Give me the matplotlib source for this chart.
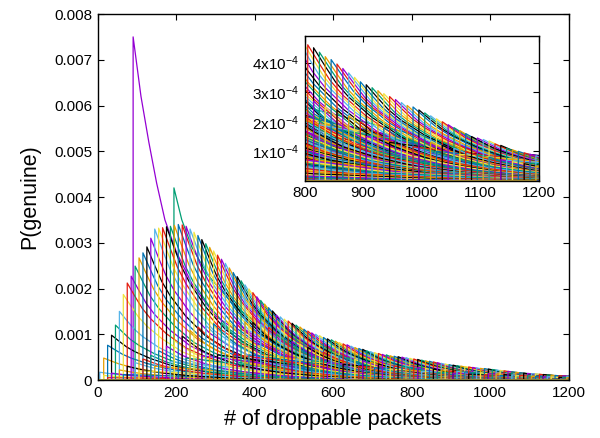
import matplotlib
matplotlib.use("Agg")
import matplotlib.pyplot as plt
import numpy as np

plt.rcParams['font.family'] = ['Liberation Sans', 'DejaVu Sans']
plt.rcParams['mathtext.fontset'] = 'custom'
plt.rcParams['mathtext.rm'] = 'Liberation Sans'
plt.rcParams['mathtext.it'] = 'Liberation Sans:italic'

# ---------------- data ----------------
# main family: jump position and peak height (units of 1e-4)
main_start = [5, 15, 25, 35, 45, 55, 65, 75, 85, 95,
              105, 115, 125, 135, 145, 155, 165, 175, 185, 195,
              205, 215, 225, 235, 245, 255, 265, 275, 285, 295,
              305, 315, 325, 335, 345, 355, 365, 375, 385, 395,
              405, 415, 425, 435, 445, 455, 465, 475, 485, 495,
              505, 515, 525, 535, 545, 555, 565, 575, 585, 595,
              605, 615, 625, 635, 645, 655, 665, 675, 685, 695,
              705, 715, 725, 735, 745, 755, 765, 775, 785, 795,
              805, 815, 825, 835, 845, 855, 865, 875, 885, 895,
              905, 915, 925, 935, 945, 955, 965, 975, 985, 995,
              1005, 1015, 1025, 1035, 1045, 1055, 1065, 1075, 1085, 1095,
              1105, 1115, 1125, 1135, 1145, 1155, 1165, 1175, 1185, 1195]
main_peak = [1.7, 4.8, 7.6, 9.8, 12.0, 15.0, 18.7, 21.2, 22.7, 24.9,
             26.7, 27.8, 29.1, 31.0, 33.0, 33.2, 33.3, 33.5, 33.6, 33.8,
             34.0, 33.9, 33.6, 33.0, 32.3, 31.6, 30.7, 29.8, 29.0, 28.2,
             27.3, 26.4, 25.5, 24.5, 23.5, 22.6, 21.7, 20.8, 19.9, 19.1,
             18.2, 17.4, 16.6, 15.8, 15.1, 14.2, 13.8, 13.3, 12.9, 12.4,
             12.0, 11.6, 11.1, 10.7, 10.3, 10.0, 9.7, 9.3, 9.0, 8.8,
             8.5, 8.2, 7.9, 7.7, 7.4, 7.1, 6.9, 6.7, 6.4, 6.2,
             6.0, 5.8, 5.6, 5.5, 5.3, 5.2, 5.1, 5.0, 4.9, 4.75,
             4.6, 4.5, 4.35, 4.2, 4.1, 3.95, 3.8, 3.65, 3.5, 3.35,
             3.25, 3.15, 3.05, 2.95, 2.85, 2.75, 2.65, 2.55, 2.5, 2.4,
             2.3, 2.2, 2.1, 2.0, 1.9, 1.8, 1.7, 1.6, 1.5, 1.45,
             1.4, 1.35, 1.25, 1.2, 1.1, 1.05, 1.0, 0.95, 0.9, 0.85]

# secondary (lower) family
sec_start = [15, 35, 55, 75, 95, 115, 135, 155, 175, 195,
             215, 235, 255, 275, 295, 315, 335, 355, 375, 395,
             415, 435, 455, 475, 495, 515, 535, 555, 575, 595,
             615, 635, 655, 675, 695, 715, 735, 755, 775, 795,
             815, 835, 855, 875, 895, 915, 935, 955, 975, 995,
             1015, 1035, 1055, 1075, 1095, 1115, 1135, 1155, 1175, 1195]
sec_peak = [1.0, 1.5, 2.2, 3.0, 3.8, 4.6, 5.4, 6.4, 7.4, 8.6,
            9.6, 10.8, 11.6, 12.0, 12.3, 12.5, 12.6, 12.7, 12.7, 12.6,
            12.2, 11.5, 10.0, 9.2, 8.4, 7.8, 7.1, 6.6, 6.1, 5.7,
            5.3, 4.9, 4.5, 4.2, 3.9, 3.5, 3.3, 3.1, 3.0, 2.85,
            2.7, 2.5, 2.4, 2.2, 2.0, 1.9, 1.8, 1.65, 1.55, 1.45,
            1.3, 1.2, 1.1, 1.0, 0.9, 0.8, 0.72, 0.65, 0.58, 0.5]

# low, flat family near the bottom
low_start = [25, 65, 105, 145, 185, 225, 265, 305, 345, 385,
             425, 465, 505, 545, 585, 625, 665, 705, 745, 785,
             825, 865, 905, 945, 985, 1025, 1065, 1105, 1145, 1185]
low_peak = [0.5, 1.2, 2.0, 3.0, 4.0, 4.8, 5.3, 5.5, 5.6, 5.5,
            5.3, 5.0, 4.6, 4.2, 3.8, 3.4, 3.0, 2.7, 2.4, 2.1,
            1.9, 1.7, 1.5, 1.3, 1.15, 1.0, 0.9, 0.8, 0.7, 0.6]

# decay shapes (offset from jump, fraction of peak)
decay_off = [0, 20, 38, 60, 99, 150, 200, 260, 340, 450, 600, 800, 1200]
decay_frac = [1, 0.86, 0.74, 0.63, 0.48, 0.33, 0.24, 0.16, 0.10, 0.055, 0.025, 0.010, 0.002]
flat_off = [0, 100, 200, 400, 800, 1200]
flat_frac = [1, 0.8, 0.6, 0.35, 0.12, 0.04]

# two outlier curves (x, value in 1e-4)
purple_x = [0, 90, 90, 110, 130, 150, 171, 200, 240, 300, 400, 600, 1200]
purple_y = [0, 0, 75, 62, 52, 43, 35, 28, 21, 14, 8, 3, 0.5]
green_x = [0, 194, 194, 214, 240, 280, 350, 450, 600, 800, 1200]
green_y = [0, 0, 42, 35, 29, 23, 16, 10, 5.5, 2.5, 0.5]

palette = ['#9400d3', '#009e73', '#56b4e9', '#e69f00', '#f0e442',
           '#0072b2', '#e51e10', '#000000']

# ---------------- build curves ----------------
curves = []
for s, p in zip(main_start, main_peak):
    curves.append((s, p, decay_off, decay_frac))
for s, p in zip(sec_start, sec_peak):
    curves.append((s, p, decay_off, decay_frac))
for s, p in zip(low_start, low_peak):
    curves.append((s, p, flat_off, flat_frac))
curves.sort(key=lambda c: c[0])


def curve_xy(s, p, offs, fracs):
    xs = [0, s] + [s + o for o in offs]
    ys = [0, 0] + [p * f * 1e-4 for f in fracs]
    return np.array(xs, float), np.array(ys, float)


fig = plt.figure(figsize=(6.0, 4.38), dpi=100)
ax = fig.add_axes([0.163, 0.1324, 0.785, 0.8356])
ins = fig.add_axes([0.508, 0.587, 0.390, 0.331])

for a in (ax, ins):
    a.plot(purple_x, np.array(purple_y) * 1e-4, color=palette[0], lw=0.9)
    a.plot(green_x, np.array(green_y) * 1e-4, color=palette[1], lw=0.9)
    for k, (s, p, offs, fracs) in enumerate(curves):
        xs, ys = curve_xy(s, p, offs, fracs)
        a.plot(xs, ys, color=palette[(k + 2) % 8], lw=0.9)

ax.set_xlim(0, 1200)
ax.set_ylim(0, 0.008)
ax.set_xticks([0, 200, 400, 600, 800, 1000, 1200])
ax.set_yticks([0, 0.001, 0.002, 0.003, 0.004, 0.005, 0.006, 0.007, 0.008])
ax.set_yticklabels(['0', '0.001', '0.002', '0.003', '0.004', '0.005',
                    '0.006', '0.007', '0.008'])
ax.set_xlabel('# of droppable packets', fontsize=15.5, labelpad=7)
ax.set_ylabel('P(genuine)', fontsize=15.5, labelpad=10)
ax.tick_params(direction='in', top=True, right=True, length=4,
               labelsize=11, pad=4)

ins.set_xlim(800, 1200)
ins.set_ylim(0, 4.9e-4)
ins.set_xticks([800, 900, 1000, 1100, 1200])
ins.set_yticks([1e-4, 2e-4, 3e-4, 4e-4])
ins.set_yticklabels([r'$\mathrm{1x10^{-4}}$', r'$\mathrm{2x10^{-4}}$',
                     r'$\mathrm{3x10^{-4}}$', r'$\mathrm{4x10^{-4}}$'])
ins.tick_params(direction='in', top=True, right=True, length=4,
                labelsize=11, pad=4)
ins.set_facecolor('white')

for a in (ax, ins):
    for sp in a.spines.values():
        sp.set_linewidth(1.0)

fig.savefig('out.png', dpi=100)
